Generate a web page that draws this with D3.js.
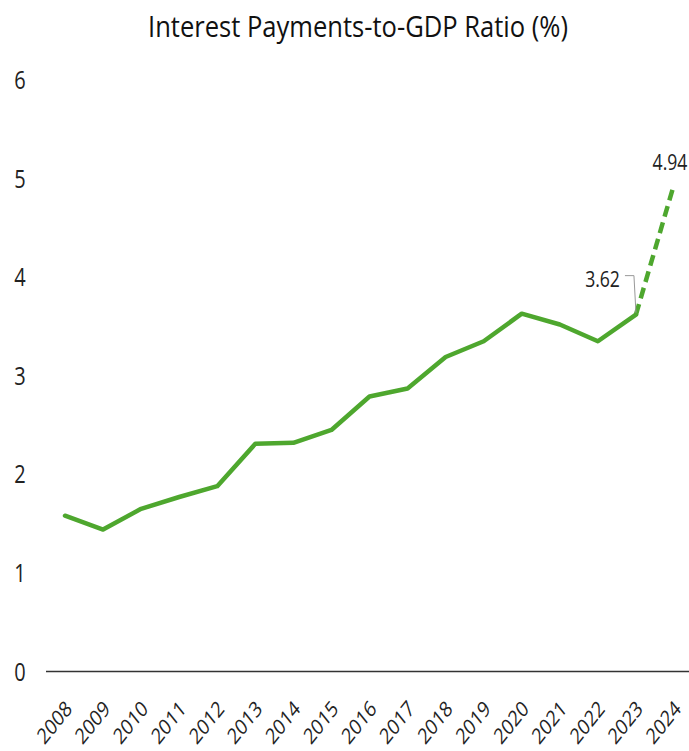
<!DOCTYPE html>
<html>
<head>
<meta charset="utf-8">
<script src="https://cdn.jsdelivr.net/npm/d3@7"></script>
<style>
  html, body { margin: 0; padding: 0; background: #fff; }
  svg { display: block; font-family: "Open Sans", "Noto Sans", sans-serif; }
</style>
</head>
<body>
<div id="chart"></div>
<script>
const years = ["2008", "2009", "2010", "2011", "2012", "2013", "2014", "2015",
  "2016", "2017", "2018", "2019", "2020", "2021", "2022", "2023", "2024"];
const ratio = [1.58, 1.44, 1.65, 1.77, 1.88, 2.31, 2.32, 2.45,
  2.79, 2.87, 3.19, 3.35, 3.63, 3.52, 3.35, 3.62, 4.94];
const yTicks = [0, 1, 2, 3, 4, 5, 6];
const titleText = "Interest Payments-to-GDP Ratio (%)";

const width = 689, height = 751;
const squish = 0.8; // text in the reference is horizontally narrow
const green = "#4ea72e";

const svg = d3.select("#chart").append("svg")
  .attr("width", width)
  .attr("height", height);

const x = d3.scalePoint().domain(years).range([65, 674]);
const y = d3.scaleLinear().domain([0, 6]).range([671.5, 80]);

// title
svg.append("text")
  .attr("x", 148)
  .attr("y", 37)
  .attr("textLength", 420)
  .attr("lengthAdjust", "spacingAndGlyphs")
  .style("font-size", "30px")
  .style("fill", "#111")
  .text(titleText);

// y labels
svg.append("g")
  .selectAll("text")
  .data(yTicks)
  .join("text")
  .attr("transform", d => `translate(20, ${y(d)}) scale(${squish},1)`)
  .attr("dy", "0.36em")
  .attr("text-anchor", "middle")
  .style("font-size", "25px")
  .style("fill", "#222")
  .text(d => d);

// zero line
svg.append("line")
  .attr("x1", 46).attr("x2", width)
  .attr("y1", y(0)).attr("y2", y(0))
  .attr("stroke", "#333")
  .attr("stroke-width", 1.6);

// x labels
svg.append("g")
  .selectAll("text")
  .data(years)
  .join("text")
  .attr("transform", d => `translate(${x(d) + 8}, 710) scale(${squish},1) rotate(-45)`)
  .attr("text-anchor", "end")
  .style("font-size", "22px")
  .style("fill", "#222")
  .text(d => d);

// line
const pts = years.map((yr, i) => [x(yr), y(ratio[i])]);
const line = d3.line();

svg.append("path")
  .attr("d", line(pts.slice(0, pts.length - 1)))
  .attr("fill", "none")
  .attr("stroke", green)
  .attr("stroke-width", 4.5)
  .attr("stroke-linejoin", "round")
  .attr("stroke-linecap", "round");

svg.append("path")
  .attr("d", line(pts.slice(pts.length - 2)))
  .attr("fill", "none")
  .attr("stroke", green)
  .attr("stroke-width", 4.5)
  .attr("stroke-dasharray", "11,6");

// data labels
const last = pts.length - 1;
const prev = last - 1;

svg.append("text")
  .attr("transform", `translate(${pts[last][0] - 4}, ${pts[last][1] - 14}) scale(${squish},1)`)
  .attr("text-anchor", "middle")
  .style("font-size", "22px")
  .style("fill", "#222")
  .text(ratio[last].toFixed(2));

const lblX = pts[prev][0] - 16, lblY = pts[prev][1] - 36;
svg.append("text")
  .attr("transform", `translate(${lblX}, ${lblY}) scale(${squish},1)`)
  .attr("dy", "0.36em")
  .attr("text-anchor", "end")
  .style("font-size", "22px")
  .style("fill", "#222")
  .text(ratio[prev].toFixed(2));

svg.append("path")
  .attr("d", `M${lblX + 5},${lblY - 3}H${pts[prev][0] - 2}L${pts[prev][0]},${pts[prev][1] - 2}`)
  .attr("fill", "none")
  .attr("stroke", "#999")
  .attr("stroke-width", 1);
</script>
</body>
</html>
